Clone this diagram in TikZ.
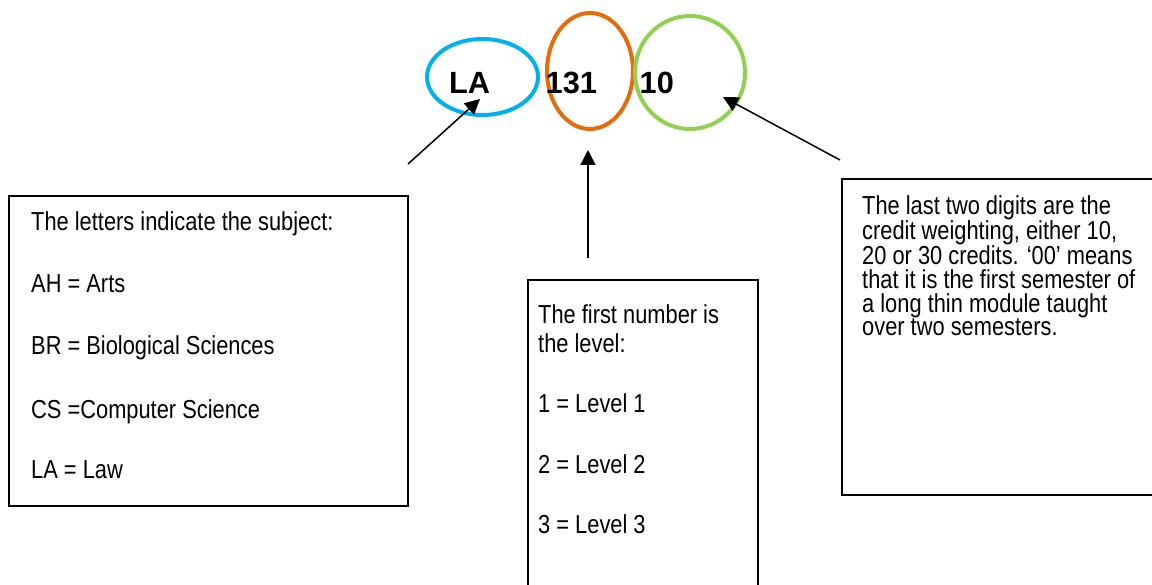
\documentclass[tikz,border=0pt]{standalone}
\usepackage{fontspec}
\setmainfont{Liberation Sans}
\newfontfamily\narrowfont[FakeStretch=0.84]{Liberation Sans}
\usetikzlibrary{arrows.meta, positioning, shapes.geometric}

\definecolor{codeblue}{HTML}{00B0F0}
\definecolor{codeorange}{HTML}{E46C0A}
\definecolor{codegreen}{HTML}{92D050}

\begin{document}
\begin{tikzpicture}[x=1pt, y=-1pt,
  ring/.style={draw, ellipse, line width=4pt, inner sep=0pt},
  code/.style={anchor=base west, inner sep=0pt, font=\fontsize{30.7}{36}\selectfont\bfseries},
  box/.style={draw, rectangle, line width=1.6pt, anchor=north west, inner sep=0pt},
  note/.style={anchor=north west, inner sep=0pt, align=left, font=\narrowfont\fontsize{26}{23.6}\selectfont},
  arr/.style={-{Triangle[length=15pt, width=15pt]}, line width=1.5pt}
]
\useasboundingbox (0,0) rectangle (1152,585);

% the module code and its three parts
\node[ring, draw=codeblue, minimum width=111pt, minimum height=76pt] (ringLA) at (482.5,77) {};
\node[ring, draw=codeorange, minimum width=86pt, minimum height=116pt] (ringLevel) at (590,71) {};
\node[ring, draw=codegreen, minimum width=110pt, minimum height=113pt] (ringCredit) at (690,72.5) {};
\node[code] (codeLA) at (449,94) {LA};
\node[code] (codeLevel) at (545.5,94) {131};
\node[code] (codeCredit) at (639.5,94) {10};

% explanation boxes
\node[box, minimum width=399pt, minimum height=310pt] (subjbox) at (8,195) {};
\node[box, minimum width=230pt, minimum height=330pt] (levelbox) at (527,279) {};
\node[box, minimum width=330pt, minimum height=316pt] (creditbox) at (841,178) {};

\node[note] (subjtext) at (31,211.4) {The letters indicate the subject:\\[38.4pt]
  AH = Arts\\[38.4pt]
  BR = Biological Sciences\\[38.4pt]
  CS =Computer Science\\[37pt]
  LA = Law};
\node[note] (leveltext) at (538,304.4) {The first number is\\[5.4pt]
  the level:\\[36.4pt]
  1 = Level 1\\[37.4pt]
  2 = Level 2\\[36.4pt]
  3 = Level 3};
\node[note] (credittext) at (862,195.4) {The last two digits are the\\
  credit weighting, either 10,\\
  20 or 30 credits. ‘00’ means\\
  that it is the first semester of\\
  a long thin module taught\\
  over two semesters.};

% pointers from the boxes up to the code
\coordinate (subjtail) at (408,164);
\coordinate (subjtip) at (480,99);
\coordinate (leveltail) at (588,258);
\coordinate (leveltip) at (588,150);
\coordinate (credittail) at (840,160);
\coordinate (credittip) at (723,97);
\draw[arr] (subjtail) -- (subjtip);
\draw[arr] (leveltail) -- (leveltip);
\draw[arr] (credittail) -- (credittip);
\end{tikzpicture}
\end{document}
